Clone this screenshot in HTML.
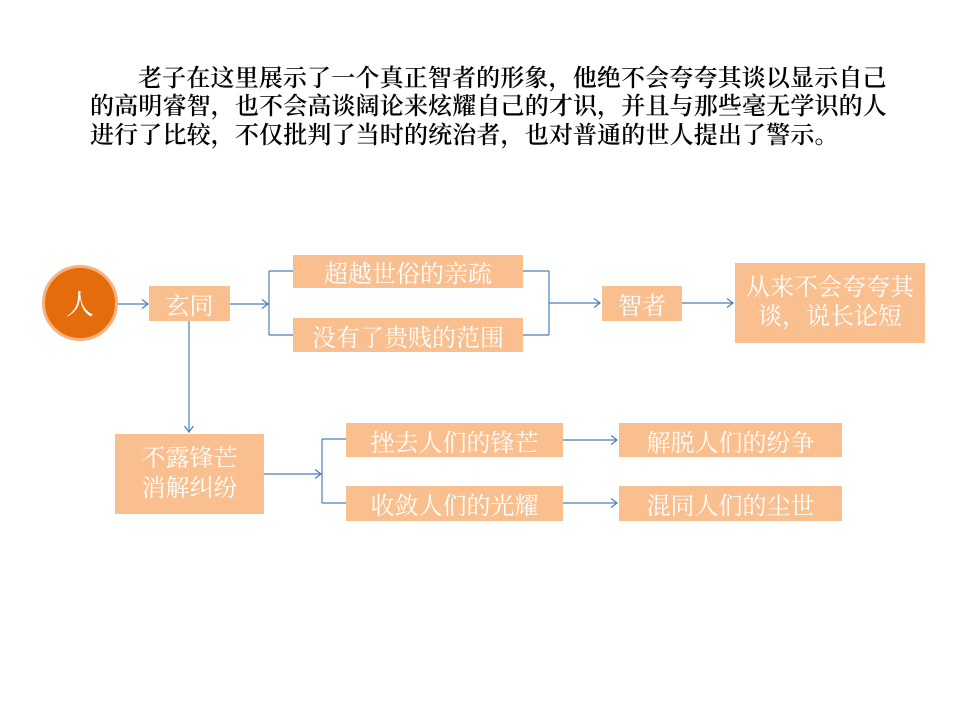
<!DOCTYPE html>
<html>
<head>
<meta charset="utf-8">
<style>
html,body{margin:0;padding:0;background:#fff;}
body{width:960px;height:720px;position:relative;overflow:hidden;}
.t{position:absolute;left:0;white-space:nowrap;font-family:"Liberation Serif","Noto Serif CJK SC","Noto Serif CJK",serif;font-size:24px;line-height:28px;color:#000;letter-spacing:0.15px;font-weight:600;}
.b{position:absolute;background:#F9BF8F;color:#fff;font-family:"Liberation Serif","Noto Serif CJK SC","Noto Serif CJK",serif;font-size:24px;display:flex;align-items:center;justify-content:center;text-align:center;white-space:nowrap;}
.circle{position:absolute;left:42px;top:265px;width:70px;height:70px;border-radius:50%;background:#E46C0A;border:3px solid #F7B27E;color:#fff;font-family:"Liberation Serif","Noto Serif CJK SC","Noto Serif CJK",serif;font-size:28px;display:flex;align-items:center;justify-content:center;}
svg{position:absolute;left:0;top:0;}
</style>
</head>
<body>
<div class="t" style="left:138px;top:65px;">老子在这里展示了一个真正智者的形象，他绝不会夸夸其谈以显示自己</div>
<div class="t" style="left:90px;top:93px;">的高明睿智，也不会高谈阔论来炫耀自己的才识，并且与那些毫无学识的人</div>
<div class="t" style="left:90px;top:122px;">进行了比较，不仅批判了当时的统治者，也对普通的世人提出了警示。</div>

<svg width="960" height="720" viewBox="0 0 960 720">
<g stroke="#4A7EBB" stroke-width="1.2" fill="none">
<line x1="117" y1="304" x2="148" y2="304"/>
<polyline points="142,299.5 148,304 142,308.5"/>
<line x1="230" y1="304" x2="268" y2="304"/>
<polyline points="262,299.5 268,304 262,308.5"/>
<line x1="269" y1="271" x2="269" y2="335"/>
<line x1="269" y1="271" x2="293" y2="271"/>
<line x1="269" y1="335" x2="293" y2="335"/>
<line x1="523" y1="271" x2="549" y2="271"/>
<line x1="523" y1="335" x2="549" y2="335"/>
<line x1="549" y1="271" x2="549" y2="335"/>
<line x1="549" y1="303" x2="600" y2="303"/>
<polyline points="594,298.5 600,303 594,307.5"/>
<line x1="682" y1="303" x2="733" y2="303"/>
<polyline points="727,298.5 733,303 727,307.5"/>
<line x1="189" y1="321" x2="189" y2="432"/>
<polyline points="184.5,426 189,432 193.5,426"/>
<line x1="264" y1="474" x2="321" y2="474"/>
<polyline points="315,469.5 321,474 315,478.5"/>
<line x1="322" y1="439" x2="322" y2="503"/>
<line x1="322" y1="439" x2="346" y2="439"/>
<line x1="322" y1="503" x2="346" y2="503"/>
<line x1="563" y1="440" x2="617" y2="440"/>
<polyline points="611,435.5 617,440 611,444.5"/>
<line x1="563" y1="503" x2="617" y2="503"/>
<polyline points="611,498.5 617,503 611,507.5"/>
</g>
</svg>

<div class="circle">人</div>
<div class="b" style="left:149px;top:286px;width:81px;height:35px;">玄同</div>
<div class="b" style="left:293px;top:255px;width:230px;height:33px;">超越世俗的亲疏</div>
<div class="b" style="left:293px;top:318px;width:230px;height:34px;">没有了贵贱的范围</div>
<div class="b" style="left:602px;top:286px;width:80px;height:35px;">智者</div>
<div class="b" style="left:735px;top:263px;width:190px;height:80px;line-height:29px;">从来不会夸夸其<br>谈，说长论短</div>
<div class="b" style="left:115px;top:434px;width:149px;height:80px;line-height:30px;">不露锋芒<br>消解纠纷</div>
<div class="b" style="left:346px;top:423px;width:217px;height:34px;">挫去人们的锋芒</div>
<div class="b" style="left:346px;top:486px;width:217px;height:35px;">收敛人们的光耀</div>
<div class="b" style="left:619px;top:423px;width:223px;height:34px;">解脱人们的纷争</div>
<div class="b" style="left:619px;top:486px;width:223px;height:35px;">混同人们的尘世</div>
</body>
</html>
